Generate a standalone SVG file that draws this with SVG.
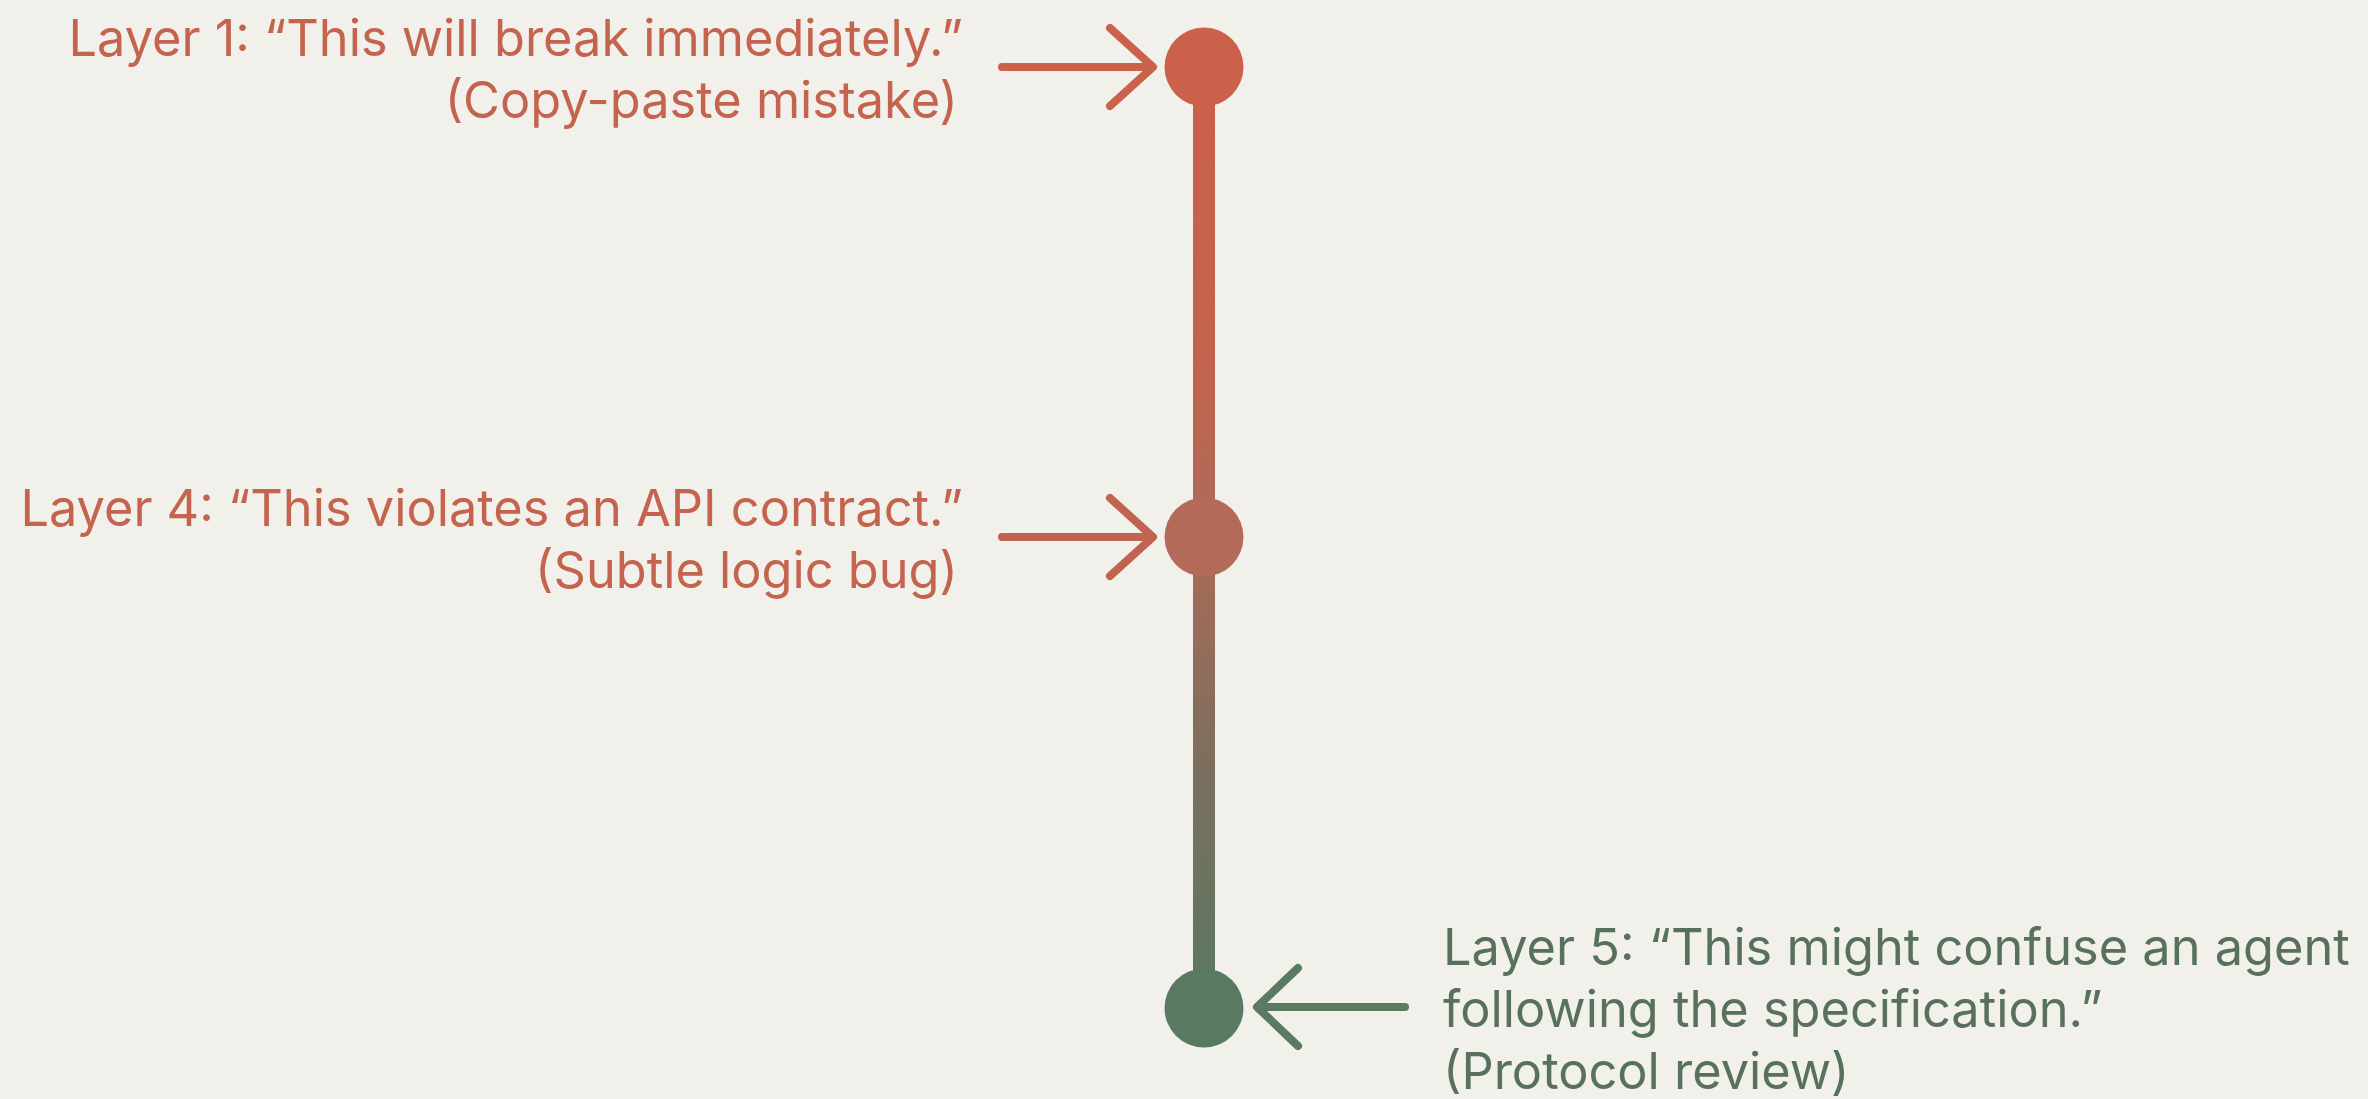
<svg xmlns="http://www.w3.org/2000/svg" width="2368" height="1099" viewBox="0 0 2368 1099">
  <defs>
    <linearGradient id="spine" gradientUnits="userSpaceOnUse" x1="0" y1="67" x2="0" y2="1008">
      <stop offset="0" stop-color="#CB614A"/>
      <stop offset="0.3" stop-color="#C4634D"/>
      <stop offset="0.5" stop-color="#AC6A58"/>
      <stop offset="0.75" stop-color="#7A6F5E"/>
      <stop offset="1" stop-color="#5A7961"/>
    </linearGradient>
    <style>
      .lbl { font-family: Inter, "Liberation Sans", Arial, sans-serif; font-size: 50.5px; }
      .red { fill: #C4644E; }
      .green { fill: #58715D; }
      .arrow { fill: none; stroke-width: 8; stroke-linecap: round; stroke-linejoin: round; }
    </style>
  </defs>

  <rect width="2368" height="1099" fill="#F1F0EB"/>

  <!-- vertical timeline spine and pointer arrows -->
  <g id="connectors">
    <line x1="1204" y1="67" x2="1204" y2="1008" stroke="url(#spine)" stroke-width="22"/>
    <g class="arrow" stroke="#C9614B">
      <path d="M1002 67 H1151 M1110 28 L1153 67 L1110 106"/>
    </g>
    <g class="arrow" stroke="#C0644F">
      <path d="M1002 537 H1151 M1110 498 L1153 537 L1110 576"/>
    </g>
    <g class="arrow" stroke="#5B7A62">
      <path d="M1405 1007 H1259 M1298 968 L1257 1007 L1298 1046"/>
    </g>
  </g>

  <g id="layer1">
    <circle cx="1204" cy="67" r="39.5" fill="#CB614A"/>
    <text class="lbl red" text-anchor="end" x="963" y="56">Layer 1: “This will break immediately.”</text>
    <text class="lbl red" text-anchor="end" x="958" y="118">(Copy-paste mistake)</text>
  </g>

  <g id="layer4">
    <circle cx="1204" cy="537" r="39.5" fill="#B36A59"/>
    <text class="lbl red" text-anchor="end" x="963" y="526">Layer 4: “This violates an API contract.”</text>
    <text class="lbl red" text-anchor="end" x="958" y="588">(Subtle logic bug)</text>
  </g>

  <g id="layer5">
    <circle cx="1204" cy="1008" r="39.5" fill="#5A7961"/>
    <text class="lbl green" x="1443" y="965">Layer 5: “This might confuse an agent</text>
    <text class="lbl green" x="1443" y="1027">following the specification.”</text>
    <text class="lbl green" x="1443" y="1089">(Protocol review)</text>
  </g>
</svg>
